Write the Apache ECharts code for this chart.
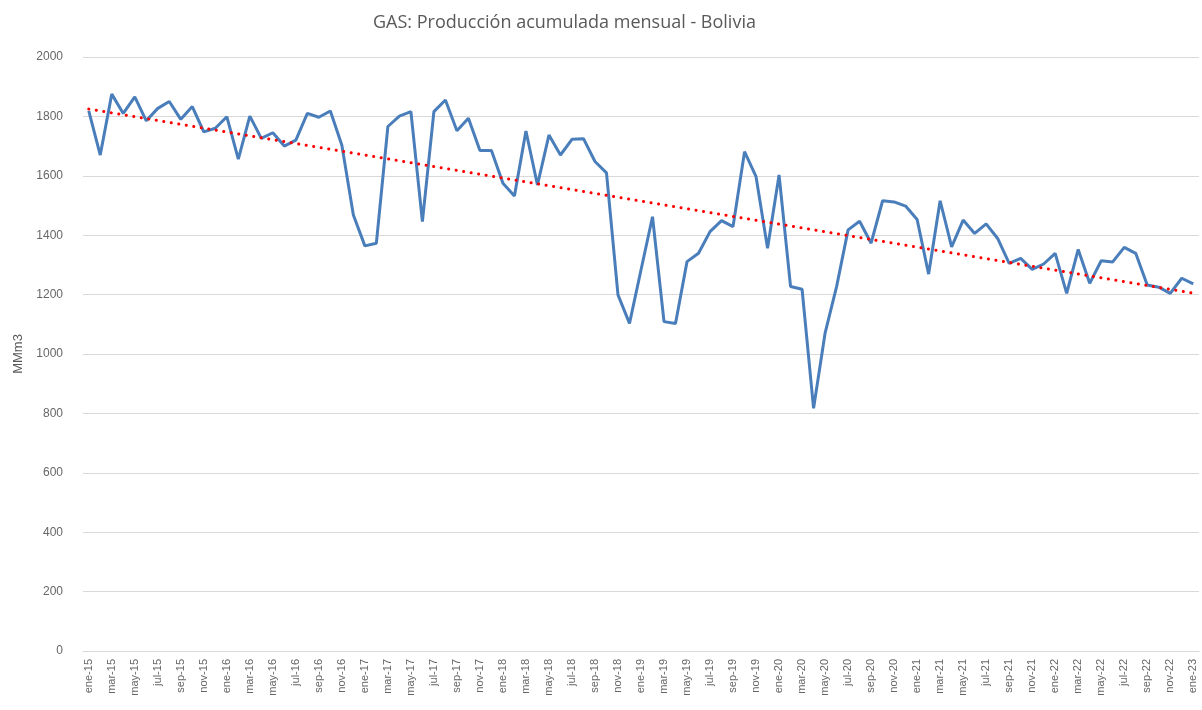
<!DOCTYPE html>
<html>
<head>
<meta charset="utf-8">
<title>GAS: Producción acumulada mensual - Bolivia</title>
<script src="https://cdn.jsdelivr.net/npm/echarts@6/dist/echarts.min.js"></script>
<style>
  html, body { margin: 0; padding: 0; background: #fff; }
  #gas-chart { width: 1202px; height: 710px; }
</style>
</head>
<body>
<div id="gas-chart"></div>
<script>
// meses (ene-15 ... ene-23)
const monthNames = ['ene', 'feb', 'mar', 'abr', 'may', 'jun', 'jul', 'ago', 'sep', 'oct', 'nov', 'dic']
const years = ['15', '16', '17', '18', '19', '20', '21', '22', '23']
const months = []
years.forEach(function (y) {
  monthNames.forEach(function (m) {
    if (months.length < 97) months.push(m + '-' + y)
  })
})

// producción mensual, MMm3
const production2015 = [1819, 1670, 1875, 1810, 1866, 1785, 1827, 1850, 1790, 1833, 1748, 1760]
const production2016 = [1799, 1656, 1801, 1726, 1745, 1700, 1720, 1810, 1797, 1818, 1703, 1468]
const production2017 = [1364, 1373, 1766, 1801, 1816, 1446, 1816, 1855, 1752, 1794, 1685, 1685]
const production2018 = [1575, 1532, 1751, 1569, 1737, 1670, 1723, 1725, 1648, 1610, 1199, 1103]
const production2019 = [1283, 1462, 1109, 1103, 1311, 1339, 1412, 1449, 1429, 1681, 1597, 1356]
const production2020 = [1603, 1227, 1218, 817, 1070, 1227, 1418, 1447, 1373, 1516, 1512, 1498]
const production2021 = [1453, 1269, 1516, 1361, 1451, 1406, 1438, 1389, 1305, 1322, 1285, 1303]
const production2022 = [1339, 1204, 1352, 1238, 1314, 1310, 1359, 1339, 1232, 1225, 1204, 1255]
const production2023 = [1236]

const production = [].concat(production2015, production2016, production2017, production2018,
  production2019, production2020, production2021, production2022, production2023)

// tendencia lineal (mínimos cuadrados sobre los datos)
function linearTrend(values) {
  const n = values.length
  let sx = 0, sy = 0, sxy = 0, sxx = 0
  values.forEach(function (v, i) {
    sx += i; sy += v; sxy += i * v; sxx += i * i
  })
  const b = (n * sxy - sx * sy) / (n * sxx - sx * sx)
  const a = (sy - b * sx) / n
  return values.map(function (v, i) { return +(a + b * i).toFixed(1) })
}
const trend = linearTrend(production)

const myChart = echarts.init(document.getElementById('gas-chart'))
const option = {
  animation: false,
  title: {
    text: 'GAS: Producción acumulada mensual - Bolivia',
    left: 368,
    top: 9,
    textStyle: {
      color: '#595959',
      fontFamily: 'Open Sans',
      fontWeight: 'normal',
      fontSize: 18
    }
  },
  grid: {
    left: 83,
    right: 3,
    top: 57,
    bottom: 59
  },
  xAxis: {
    type: 'category',
    boundaryGap: true, // puntos en el centro de cada categoría
    data: months,
    axisLabel: {
      interval: 1,
      rotate: 90,
      color: '#666666',
      fontFamily: 'Liberation Sans',
      fontSize: 11,
      margin: 8
    },
    axisTick: { show: false },
    axisLine: {
      lineStyle: { color: '#d9d9d9', width: 1 }
    }
  },
  yAxis: {
    type: 'value',
    min: 0,
    max: 2000,
    interval: 200,
    name: 'MMm3',
    nameLocation: 'middle',
    nameGap: 57,
    nameTextStyle: {
      color: '#595959',
      fontFamily: 'Liberation Sans',
      fontSize: 13
    },
    axisLabel: {
      color: '#666666',
      fontFamily: 'Liberation Sans',
      fontSize: 12,
      margin: 20,
      formatter: function (v) { return String(v) }
    },
    axisLine: { show: false },
    axisTick: { show: false },
    splitLine: {
      lineStyle: { color: '#d9d9d9', width: 1 }
    }
  },
  series: [
    {
      name: 'Producción',
      type: 'line',
      data: production,
      symbol: 'none',
      lineStyle: { color: '#4a7ebb', width: 3 },
      z: 2
    },
    {
      name: 'Tendencia',
      type: 'line',
      data: trend,
      symbol: 'none',
      lineStyle: {
        color: '#ff0000',
        width: 3,
        type: [0.1, 7.5],
        cap: 'round'
      },
      z: 3
    }
  ]
}
myChart.setOption(option)
</script>
</body>
</html>
